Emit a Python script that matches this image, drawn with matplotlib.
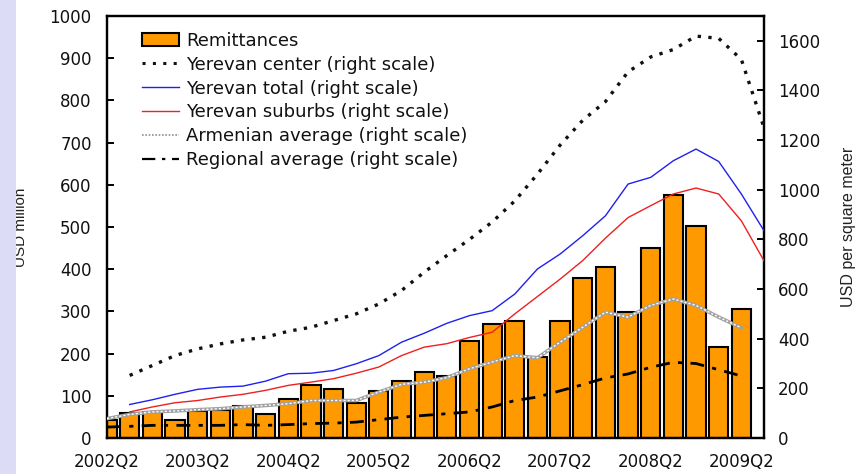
import matplotlib
matplotlib.use("Agg")
import matplotlib.pyplot as plt
from matplotlib.lines import Line2D
from matplotlib.patches import Patch, Rectangle
import numpy as np

quarters = ["2002Q2", "2002Q3", "2002Q4", "2003Q1", "2003Q2", "2003Q3", "2003Q4", "2004Q1",
            "2004Q2", "2004Q3", "2004Q4", "2005Q1", "2005Q2", "2005Q3", "2005Q4", "2006Q1",
            "2006Q2", "2006Q3", "2006Q4", "2007Q1", "2007Q2", "2007Q3", "2007Q4", "2008Q1",
            "2008Q2", "2008Q3", "2008Q4", "2009Q1", "2009Q2"]
tick_labels = ["2002Q2", "2003Q2", "2004Q2", "2005Q2", "2006Q2", "2007Q2", "2008Q2", "2009Q2"]

remittances = [42, 59, 61, 42, 63, 67, 77, 56, 93, 126, 116, 83, 111, 134, 156, 146,
               229, 270, 278, 193, 278, 378, 405, 298, 451, 576, 503, 215, 305]

# Yerevan series start one quarter later
yerevan_center = [252, 292, 332, 359, 379, 395, 406, 430, 446, 473, 500, 540, 594, 668, 735,
                  800, 870, 955, 1063, 1180, 1280, 1355, 1475, 1535, 1565, 1619, 1610, 1525, 1250]
yerevan_total = [135, 154, 176, 196, 205, 209, 229, 259, 261, 272, 299, 332, 386, 422, 462,
                 493, 513, 580, 681, 741, 815, 895, 1023, 1050, 1117, 1164, 1114, 983, 835]
yerevan_suburbs = [105, 125, 142, 151, 165, 176, 192, 212, 225, 239, 261, 286, 332, 366, 380,
                   405, 426, 500, 570, 640, 715, 805, 888, 936, 983, 1007, 983, 875, 714]
armenian_avg = [78, 95, 105, 109, 114, 118, 125, 131, 138, 151, 151, 151, 185, 216, 225,
                243, 279, 306, 332, 323, 386, 446, 507, 487, 534, 560, 534, 487, 444]
regional_avg = [44, 47, 51, 51, 51, 51, 54, 51, 54, 58, 60, 64, 74, 84, 91,
                98, 105, 125, 151, 165, 190, 215, 242, 258, 285, 305, 300, 275, 250]

TICK_FONT = "DejaVu Sans"

fig = plt.figure(figsize=(8.59, 4.74), dpi=100)
fig.patch.set_facecolor("white")
fig.patches.append(Rectangle((0, 0), 16 / 859, 1, transform=fig.transFigure,
                             facecolor="#dcdcf6", edgecolor="none", zorder=0))

ax = fig.add_axes([107 / 859, 36 / 474, (764 - 107) / 859, (438 - 16) / 474])
ax2 = ax.twinx()

x = np.arange(len(quarters))
ax.bar(x, remittances, width=0.85, color="#FF9900", edgecolor="black", linewidth=1.5, zorder=2)

x_y = np.arange(1, len(yerevan_center) + 1)
x_a = np.arange(len(armenian_avg))

ax2.plot(x_y, yerevan_center, color="#111111", linewidth=2.4, dashes=(1, 2.2),
         dash_capstyle="butt", zorder=3)
ax2.plot(x_y, yerevan_total, color="#2020ee", linewidth=1.0, zorder=3)
ax2.plot(x_y, yerevan_suburbs, color="#ee2020", linewidth=1.0, zorder=3)
ax2.plot(x_a, armenian_avg, color="#a0a0a0", linewidth=2.6, zorder=3)
ax2.plot(x_a, armenian_avg, color="white", linewidth=1.0, dashes=(1.5, 1.5), zorder=4)
ax2.plot(x_a, regional_avg, color="black", linewidth=2.0, dashes=(5, 3, 1.5, 3), zorder=4)

ax.set_xlim(0, 29)
ax.set_ylim(0, 1000)
ax2.set_ylim(0, 1700)

ax.set_xticks(x)
ax.set_xticklabels([q if q in tick_labels else "" for q in quarters])
ax.set_yticks(np.arange(0, 1001, 100))
ax2.set_yticks(np.arange(0, 1601, 200))

for a in (ax, ax2):
    for s in a.spines.values():
        s.set_linewidth(1.6)
        s.set_color("black")

ax.tick_params(axis="x", direction="in", length=4, width=1.4, pad=11, labelsize=12)
ax.tick_params(axis="y", direction="in", length=5, width=1.4, pad=11, labelsize=12)
ax2.tick_params(axis="y", direction="in", length=5, width=1.4, pad=10, labelsize=12)
for lbl in ax.get_xticklabels() + ax.get_yticklabels() + ax2.get_yticklabels():
    lbl.set_fontfamily(TICK_FONT)
    lbl.set_color("#111111")

ax.set_ylabel("USD million", fontsize=11, family="Liberation Sans", color="#222222")
ax.yaxis.set_label_coords((28 - 107) / 657, 0.5)
ax2.set_ylabel("USD per square meter", fontsize=11.5, family="Liberation Sans", rotation=90,
               color="#222222")
ax2.yaxis.set_label_coords((841 - 107) / 657, 0.5)

handles = [
    Patch(facecolor="#FF9900", edgecolor="black", linewidth=1.5),
    Line2D([], [], color="#111111", linewidth=2.2, dashes=(1, 2.4)),
    Line2D([], [], color="#2020ee", linewidth=1.0),
    Line2D([], [], color="#ee2020", linewidth=1.0),
    Line2D([], [], color="#909090", linewidth=1.2, dashes=(1, 1)),
    Line2D([], [], color="black", linewidth=1.6, dashes=(6, 3, 1.5, 3)),
]
labels = ["Remittances", "Yerevan center (right scale)", "Yerevan total (right scale)",
          "Yerevan suburbs (right scale)", "Armenian average (right scale)",
          "Regional average (right scale)"]
leg = ax2.legend(handles, labels, loc="upper left", bbox_to_anchor=(142 / 859, 1 - 32 / 474),
                 bbox_transform=fig.transFigure, frameon=False, borderpad=0, borderaxespad=0,
                 prop={"family": "DejaVu Sans", "size": 13}, labelspacing=0.32,
                 handlelength=2.05, handletextpad=0.4, handleheight=0.7)
for t in leg.get_texts():
    t.set_color("#111111")

fig.savefig("out.png", dpi=100)
